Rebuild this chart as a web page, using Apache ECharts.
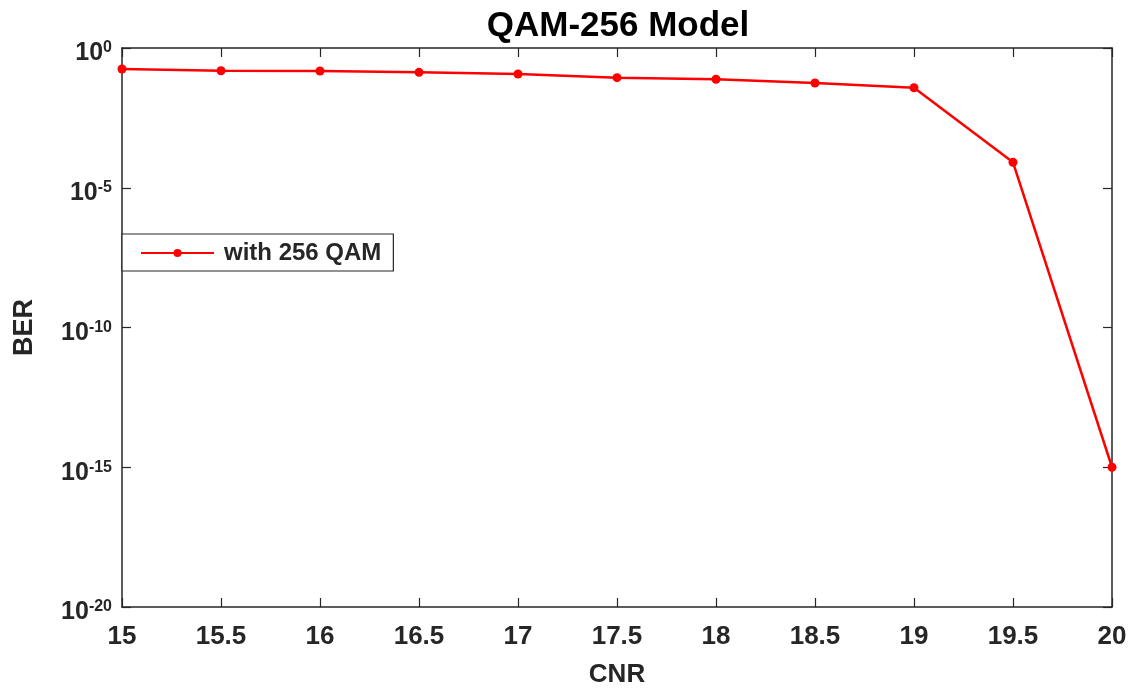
<!DOCTYPE html>
<html><head><meta charset="utf-8">
<script src="https://cdn.jsdelivr.net/npm/echarts@6/dist/echarts.min.js"></script>
<style>html,body{margin:0;padding:0;background:#fff}#c{width:1133px;height:691px}</style>
</head><body><div id="c"></div>
<script>
const cnr = [15, 15.5, 16, 16.5, 17, 17.5, 18, 18.5, 19, 19.5, 20];
const ber = [0.178, 0.154, 0.15, 0.135, 0.117, 0.087, 0.076, 0.056, 0.038, 8.1e-5, 1e-15];
const seriesName = 'with 256 QAM';
const titleText = 'QAM-256 Model';

const chart = echarts.init(document.getElementById('c'));
const F = 'Liberation Sans, Arial, sans-serif';
const axisCommon = {
  axisLine: {show: true, lineStyle: {color: '#262626', width: 1.5}},
  axisTick: {show: true, inside: true, length: 9, lineStyle: {color: '#262626', width: 1.2}},
  splitLine: {show: false}
};
chart.setOption({
  animation: false,
  backgroundColor: '#fff',
  title: {text: titleText, left: 613, textAlign: 'center', top: 4,
    textStyle: {fontFamily: F, fontWeight: 'bold', fontSize: 35, color: '#000'}},
  grid: {left: 122, right: 21, top: 48, bottom: 84, outerBoundsMode: 'none'},
  legend: {
    data: [seriesName], left: 122, top: 234, orient: 'vertical',
    backgroundColor: '#fff', borderColor: '#262626', borderWidth: 1.2,
    padding: [7, 12, 6, 18], itemWidth: 73, itemHeight: 10, itemGap: 0,
    textStyle: {fontFamily: F, fontWeight: 'bold', fontSize: 24, color: '#262626', padding: [0, 0, 0, 5]}
  },
  xAxis: [
    Object.assign({type: 'value', min: 15, max: 20, interval: 0.5, position: 'bottom',
      name: 'CNR', nameLocation: 'middle', nameGap: 55,
      nameTextStyle: {fontFamily: F, fontWeight: 'bold', fontSize: 26, color: '#262626'},
      axisLabel: {fontFamily: F, fontWeight: 'bold', fontSize: 26, color: '#262626', margin: 17}}, axisCommon),
    Object.assign({type: 'value', min: 15, max: 20, interval: 0.5, position: 'top',
      axisLabel: {show: false}}, axisCommon)
  ],
  yAxis: [
    Object.assign({type: 'log', logBase: 10, min: 1e-20, max: 1, interval: 5, position: 'left',
      name: 'BER', nameLocation: 'middle', nameGap: 84, nameRotate: 90,
      nameTextStyle: {fontFamily: F, fontWeight: 'bold', fontSize: 27, color: '#262626'},
      axisLabel: {margin: 10, padding: [10, 0, 0, 0], formatter: function (v) {
        const e = Math.round(Math.log10(v));
        return '{b|10}{s|' + e + '}';
      }, rich: {
        b: {fontFamily: F, fontWeight: 'bold', fontSize: 25, color: '#262626', verticalAlign: 'bottom', lineHeight: 26},
        s: {fontFamily: F, fontWeight: 'bold', fontSize: 16, color: '#262626', verticalAlign: 'top', padding: [0, 0, 18, 0], lineHeight: 16}
      }}}, axisCommon),
    Object.assign({type: 'log', logBase: 10, min: 1e-20, max: 1, interval: 5, position: 'right',
      axisLabel: {show: false}}, axisCommon)
  ],
  series: [{
    name: seriesName, type: 'line',
    data: cnr.map((x, i) => [x, ber[i]]),
    color: '#ff0000',
    lineStyle: {color: '#ff0000', width: 2.5},
    itemStyle: {color: '#ff0000'},
    symbol: 'circle', symbolSize: 9,
    clip: false
  }]
});
</script></body></html>
